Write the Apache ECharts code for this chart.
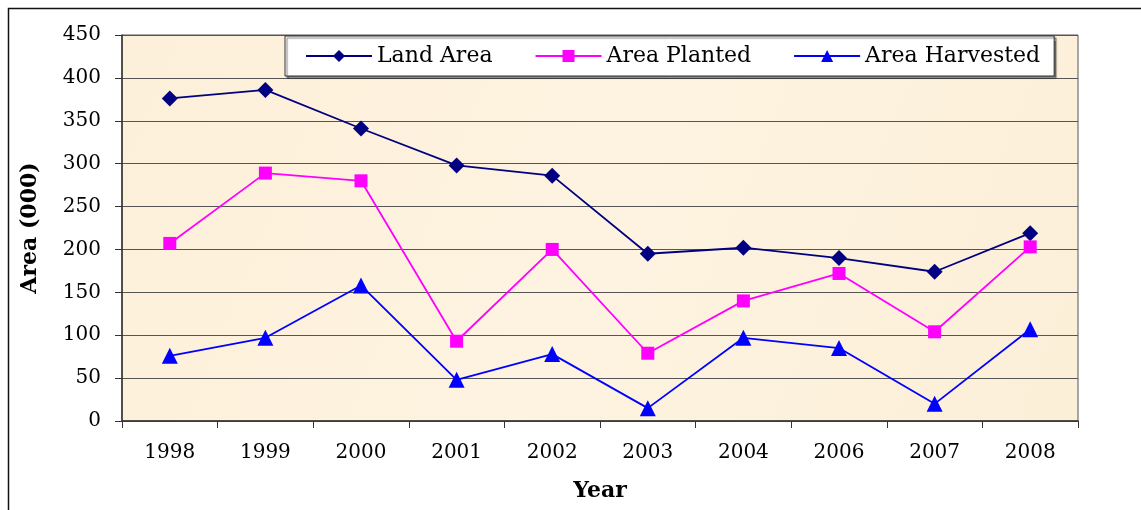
<!DOCTYPE html>
<html><head><meta charset="utf-8">
<script src="https://cdn.jsdelivr.net/npm/echarts@6/dist/echarts.min.js"></script>
<style>html,body{margin:0;padding:0;background:#fff}#c{width:1141px;height:510px}</style>
</head><body><div id="c"></div>
<script>
const years = ['1998','1999','2000','2001','2002','2003','2004','2006','2007','2008'];
const landArea = [376, 386, 341, 298, 286, 195, 202, 190, 174, 219];
const areaPlanted = [207, 289, 280, 93, 200, 79, 140, 172, 104, 203];
const areaHarvested = [76, 97, 158, 48, 78, 15, 97, 85, 20, 107];
const yTicks = [0, 50, 100, 150, 200, 250, 300, 350, 400, 450];

const font = 'DejaVu Serif';
const chart = echarts.init(document.getElementById('c'));
chart.setOption({
  animation: false,
  backgroundColor: '#fff',
  textStyle: { fontFamily: font },
  graphic: [{
    type: 'rect', left: 6, top: 6, z: -10,
    shape: { width: 1300, height: 700 },
    style: { fill: 'none', stroke: '#111', lineWidth: 1.5 }
  }],
  grid: {
    left: 122, top: 35, right: 63, bottom: 89, show: true,
    outerBoundsMode: 'none', containLabel: false,
    backgroundColor: new echarts.graphic.LinearGradient(0, 0, 1, 1, [
      { offset: 0, color: '#fdf0da' }, { offset: 0.5, color: '#fdf3e0' }, { offset: 1, color: '#fcefd8' }
    ]),
    borderColor: '#555', borderWidth: 1
  },
  legend: {
    left: 285, top: 36,
    padding: [9, 14, 9, 20],
    itemWidth: 66, itemHeight: 15, itemGap: 42,
    backgroundColor: '#fff', borderColor: '#333', borderWidth: 1,
    shadowColor: 'rgba(0,0,0,0.5)', shadowOffsetX: 2, shadowOffsetY: 2, shadowBlur: 1,
    textStyle: { fontFamily: font, fontSize: 22, color: '#000' },
    data: ['Land Area', 'Area Planted', 'Area Harvested']
  },
  xAxis: {
    type: 'category', data: years, boundaryGap: true,
    name: 'Year', nameLocation: 'middle', nameGap: 59,
    nameTextStyle: { fontFamily: font, fontSize: 22, fontWeight: 'bold', color: '#000' },
    axisLine: { lineStyle: { color: '#333', width: 1.5 } },
    axisTick: { show: true, length: 7, lineStyle: { color: '#333' } },
    axisLabel: { fontFamily: font, fontSize: 20, color: '#000', margin: 22 },
    splitLine: { show: false }
  },
  yAxis: {
    type: 'value', min: 0, max: 450, interval: 50,
    name: 'Area (000)', nameLocation: 'middle', nameGap: 81, nameRotate: 90,
    nameTextStyle: { fontFamily: font, fontSize: 22, fontWeight: 'bold', color: '#000' },
    axisLine: { show: true, lineStyle: { color: '#333', width: 1.5 } },
    axisTick: { show: true, length: 7, lineStyle: { color: '#333' } },
    axisLabel: { fontFamily: font, fontSize: 20, color: '#000', margin: 21,
      formatter: v => yTicks.includes(v) ? String(v) : '' },
    splitLine: { show: true, lineStyle: { color: '#555', width: 1 } }
  },
  series: [
    { name: 'Land Area', type: 'line', data: landArea, symbol: 'diamond', symbolSize: 16,
      itemStyle: { color: '#000080' }, lineStyle: { color: '#000080', width: 1.8 } },
    { name: 'Area Planted', type: 'line', data: areaPlanted, symbol: 'rect', symbolSize: 13,
      itemStyle: { color: '#ff00ff' }, lineStyle: { color: '#ff00ff', width: 1.8 } },
    { name: 'Area Harvested', type: 'line', data: areaHarvested, symbol: 'triangle', symbolSize: 16,
      itemStyle: { color: '#0000ff' }, lineStyle: { color: '#0000ff', width: 1.8 } }
  ]
});
</script></body></html>
